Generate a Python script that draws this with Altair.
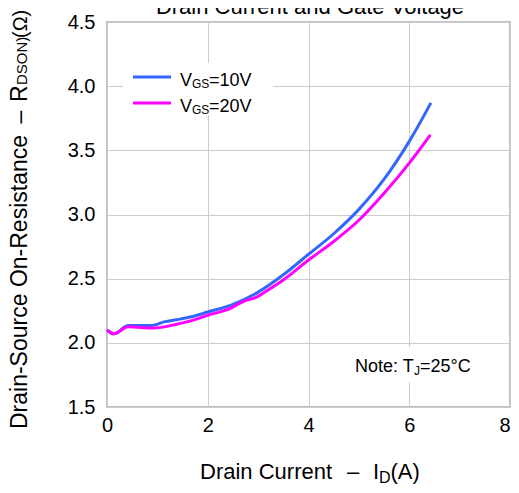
import altair as alt
import pandas as pd

# Drain current (A) and on-resistance (Ohm)
id_10v = [0.0, 0.14, 0.42, 0.88, 1.15, 1.38, 1.7, 2.0, 2.5, 3.0, 3.5, 4.0, 4.5, 5.0, 5.5, 6.0, 6.43]
r_10v = [2.10, 2.07, 2.135, 2.135, 2.165, 2.18, 2.205, 2.24, 2.30, 2.395, 2.53, 2.69, 2.85, 3.04, 3.275, 3.57, 3.87]
id_20v = [0.0, 0.14, 0.42, 0.92, 1.38, 1.7, 2.0, 2.46, 2.69, 2.96, 3.19, 3.5, 4.0, 4.5, 5.0, 5.5, 6.0, 6.42]
r_20v = [2.10, 2.07, 2.125, 2.115, 2.145, 2.175, 2.215, 2.27, 2.32, 2.355, 2.41, 2.49, 2.645, 2.79, 2.955, 3.165, 3.40, 3.62]

x_ticks = [0, 2, 4, 6, 8]
y_ticks = [1.5, 2.0, 2.5, 3.0, 3.5, 4.0, 4.5]
series = ["VGS=10V", "VGS=20V"]
colors = ["#3366ff", "#ff00ff"]

FONT = "Liberation Sans"

df10 = pd.DataFrame({"id": id_10v, "r": r_10v, "s": series[0]})
df20 = pd.DataFrame({"id": id_20v, "r": r_20v, "s": series[1]})

xs = alt.X("id:Q", scale=alt.Scale(domain=[0, 8], nice=False),
           axis=alt.Axis(values=x_ticks, title=None, format="d",
                         labelAlign={"expr": "datum.value == 8 ? 'right' : 'center'"}))
ys = alt.Y("r:Q", scale=alt.Scale(domain=[1.5, 4.5], nice=False, zero=False),
           axis=alt.Axis(values=y_ticks, title=None, format=".1f"))
cs = alt.Color("s:N", scale=alt.Scale(domain=series, range=colors), legend=None)

line10 = alt.Chart(df10).mark_line(strokeWidth=3, interpolate="monotone").encode(x=xs, y=ys, color=cs)
line20 = alt.Chart(df20).mark_line(strokeWidth=3, interpolate="monotone").encode(x=xs, y=ys, color=cs)

one = pd.DataFrame({"a": [0]})


def txt(t, x, y, size, angle=0, align="left", baseline="alphabetic"):
    kw = dict(text=t, fontSize=size, font=FONT, color="black", align=align, baseline=baseline)
    if angle:
        kw["angle"] = angle
    return alt.Chart(one).mark_text(**kw).encode(x=alt.value(x), y=alt.value(y))


def box(x, x2, y, y2):
    return alt.Chart(one).mark_rect(color="white").encode(
        x=alt.value(x), x2=alt.value(x2), y=alt.value(y), y2=alt.value(y2))


# legend
leg_df = pd.DataFrame({"s": series, "yy": [55, 81]})
leg_lines = alt.Chart(leg_df).mark_rule(strokeWidth=3).encode(
    x=alt.value(26), x2=alt.value(64), y=alt.Y("yy:Q", scale=None), color=cs)

layers = [
    box(16, 166, 41, 93),
    box(243, 368, 325, 360),
    line10, line20,
    leg_lines,
    txt("V", 73, 64, 18), txt("GS", 85, 66, 12), txt("=10V", 102, 64, 18),
    txt("V", 73, 90, 18), txt("GS", 85, 92, 12), txt("=20V", 102, 90, 18),
    txt("Note: T", 248, 350, 18), txt("J", 307, 353, 12), txt("=25°C", 313, 350, 18),
    # title (cut at the top as in the reference)
    txt("Drain Current and Gate Voltage", 203, -8, 22, align="center"),
    # x-axis title
    txt("Drain Current", 93, 457, 22), txt("–", 246, 457, 22, align="center"),
    txt("I", 266, 457, 22), txt("D", 272, 461, 16), txt("(A)", 283.5, 457, 22),
    # y-axis title (rotated)
    txt("Drain-Source On-Resistance", -80, 407, 23, angle=270),
    txt("–", -80, 95, 23, angle=270, align="center"),
    txt("R", -80, 80, 23, angle=270),
    txt("DSON)", -80, 63, 15, angle=270),
    txt("(Ω)", -80, 16, 20, angle=270),
]

chart = alt.layer(*layers).properties(
    width=403, height=385,
    padding={"left": 99, "top": 14, "right": 1, "bottom": 78},
    autosize=alt.AutoSizeParams(type="none"),
).configure_view(
    stroke="#c0c0c0", strokeWidth=2
).configure_axis(
    grid=True, gridColor="#cccccc", gridWidth=1, ticks=False, domain=False,
    labelFont=FONT, labelFontSize=20, labelColor="black",
).configure_axisX(labelPadding=8).configure_axisY(labelPadding=12)

chart.save("out.html", embed_options={"renderer": "svg", "actions": False})
